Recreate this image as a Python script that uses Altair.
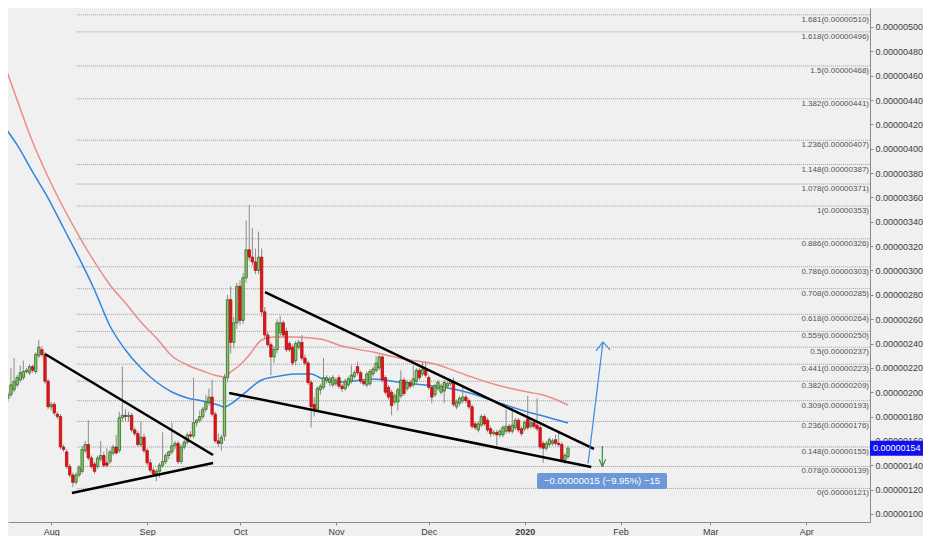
import altair as alt
import pandas as pd

# ---------------- data (prices in satoshi, 1e-8) ----------------
opens = [209,209,195,198,202,206,210,212,217,216,
         221,217,230,235,231,209,188,190,182,180,
         155,151,139,132,126,132,135,152,157,146,
         141,139,145,148,142,143,150,155,152,179,
         181,180,181,169,166,157,163,152,142,136,
         133,135,140,143,148,151,156,158,143,155,
         159,165,164,175,177,180,186,192,196,182,
         160,158,164,212,276,241,257,287,259,294,
         317,311,307,300,311,266,247,239,229,235,
         249,257,250,240,237,226,237,241,228,224,
         208,190,186,202,204,210,208,206,207,212,
         205,203,206,209,213,221,216,209,206,207,
         215,218,220,229,212,204,200,192,192,197,
         210,203,208,206,209,218,215,218,212,204,
         198,203,200,201,205,207,209,188,191,193,
         196,193,188,174,169,173,180,177,170,166,
         167,165,165,168,172,168,171,177,170,170,
         178,172,175,173,171,158,154,157,158,161,
         158,157,144,147]
highs = [214,219,200,220,228,214,222,226,220,223,
         223,233,243,238,233,211,192,192,184,182,
         157,153,141,134,134,140,156,160,177,148,
         143,148,160,151,154,153,157,165,184,221,
         186,184,183,171,168,176,166,154,145,138,
         137,142,167,150,152,175,160,160,157,161,
         167,168,212,178,185,188,198,203,210,184,
         166,165,215,280,287,262,290,292,298,341,
         354,335,318,332,318,270,250,241,238,260,
         263,259,253,242,239,242,243,247,231,226,
         210,196,205,207,228,214,213,214,212,214,
         207,211,213,222,218,225,218,211,217,219,
         221,230,231,231,214,206,202,199,204,218,
         212,210,210,222,220,220,225,225,214,206,
         207,210,207,210,209,211,212,194,197,204,
         198,195,190,176,176,182,182,179,172,169,
         169,170,173,186,174,188,179,179,172,177,
         197,177,177,195,173,160,160,163,162,165,
         167,159,150,156]
lows = [206,193,192,196,200,204,208,210,215,214,
        216,215,228,229,207,186,185,181,178,153,
        151,137,130,122,124,130,133,150,144,137,
        133,137,143,138,138,141,148,149,150,176,
        176,176,167,164,155,155,150,140,134,131,
        127,130,138,141,145,149,153,141,141,153,
        157,162,162,172,175,178,184,189,180,158,
        155,152,160,208,232,236,252,255,256,290,
        308,304,297,297,262,244,237,214,224,232,
        246,245,233,233,222,222,235,226,222,206,
        171,180,184,198,202,207,205,204,205,203,
        200,201,204,207,211,214,207,205,204,205,
        213,216,218,208,198,194,181,190,185,195,
        197,201,203,204,207,210,213,212,202,191,
        196,201,198,191,203,205,188,186,189,191,
        191,186,170,169,167,171,172,167,163,164,
        156,163,163,166,166,166,169,167,164,168,
        169,170,170,168,153,142,152,155,156,156,
        155,142,141,145]
closes = [210,196,198,206,209,212,216,217,218,221,
          218,231,237,231,209,188,190,183,180,155,
          153,139,132,126,132,138,153,157,146,139,
          135,146,148,140,140,151,155,150,179,181,
          180,181,169,166,157,163,152,142,136,133,
          135,140,143,148,151,156,158,143,155,159,
          165,164,175,177,180,186,192,196,182,160,
          158,163,212,276,241,257,287,259,294,317,
          311,307,300,311,266,247,239,229,235,257,
          257,247,235,235,224,240,241,228,224,208,
          188,186,203,205,212,212,211,212,210,205,
          203,209,211,214,216,216,209,207,215,217,
          219,224,229,210,200,196,189,197,202,210,
          199,208,205,211,218,212,219,214,204,196,
          205,208,205,208,207,209,190,192,195,196,
          193,188,172,171,174,180,174,169,166,167,
          165,168,171,172,168,173,177,169,166,175,
          171,175,172,170,155,154,158,161,160,158,
          157,144,148,154]

# moving averages (day index from 2019-07-16)
ma_days = [0, 5, 10, 15, 20, 25, 30, 35, 40, 45, 50, 55, 60, 65, 70, 72, 74,
           77, 80, 84, 88, 95, 100, 103, 110, 120, 130, 140, 150, 160, 170, 175, 183]
red_ma = [475.4, 440.0, 405.5, 376.8, 351.3, 328.3, 307.0, 288.1, 273.3, 257.7,
          244.5, 229.8, 222.4, 217.4, 213.3, 212.5, 216.6, 222.4, 230.6, 242.9,
          245.4, 245.4, 244.5, 243.7, 237.9, 233.0, 227.3, 223.2, 214.2, 205.9,
          200.1, 197.7, 189.5]
blue_ma = [421.1, 403.1, 380.9, 359.5, 334.9, 310.3, 284.0, 254.4, 234.7, 219.9,
           208.4, 200.2, 195.3, 192.8, 189.5, 187.9, 190.3, 196.1, 202.6, 210.0,
           212.5, 215.0, 215.0, 211.7, 208.4, 210.9, 207.6, 205.1, 200.2, 192.0,
           183.8, 180.5, 174.7]

# Fibonacci levels
fib_levels = ["0", "0.078", "0.148", "0.236", "0.309", "0.382", "0.441", "0.5",
              "0.559", "0.618", "0.708", "0.786", "0.886", "1", "1.078", "1.148",
              "1.236", "1.382", "1.5", "1.618", "1.681"]
fib_prices = [121, 139, 155, 176, 193, 209, 223, 237, 250, 264, 285, 303, 326,
              353, 371, 387, 407, 441, 468, 496, 510]
fib_start_day = 24.3

# trend lines (day index, price)
trend_d0 = [14.0, 22.7, 85.1, 73.5]
trend_v0 = [231.4, 117.2, 282.3, 199.4]
trend_d1 = [68.3, 68.3, 191.4, 190.5]
trend_v1 = [148.4, 141.9, 153.4, 138.6]

# projection arrow (blue) and measure arrow (green)
blue_d0 = [189.5, 192.1, 196.6]
blue_v0 = [141.6, 233.9, 234.7]
blue_d1 = [194.3, 194.3, 194.3]
blue_v1 = [241.3, 241.3, 241.3]
green_d0 = [194.1, 193.1, 195.2]
green_v0 = [155.8, 144.9, 144.9]
green_d1 = [194.1, 194.1, 194.1]
green_v1 = [138.8, 138.8, 138.8]

measure_text = "\u22120.00000015 (\u22129.95%) \u221215"
last_price = 154

# ---------------- build tables ----------------
BASE = pd.Timestamp("2019-07-16")


def day(d):
    return BASE + pd.Timedelta(days=d)


n = len(closes)
assert len(opens) == n and len(highs) == n and len(lows) == n
candles = pd.DataFrame({
    "date": [day(i) for i in range(n)],
    "open": opens, "high": highs, "low": lows, "close": closes,
})
ma = pd.DataFrame({
    "date": [day(d) for d in ma_days] * 2,
    "v": red_ma + blue_ma,
    "ma": ["red"] * len(ma_days) + ["blue"] * len(ma_days),
})
fib = pd.DataFrame({
    "start": [day(fib_start_day)] * len(fib_prices),
    "price": fib_prices,
    "label": [f"{l}(0.00000{p})" for l, p in zip(fib_levels, fib_prices)],
})
trend = pd.DataFrame({
    "x0": [day(d) for d in trend_d0], "x1": [day(d) for d in trend_d1],
    "y0": trend_v0, "y1": trend_v1,
})
barrow = pd.DataFrame({
    "x0": [day(d) for d in blue_d0], "x1": [day(d) for d in blue_d1],
    "y0": blue_v0, "y1": blue_v1,
})
garrow = pd.DataFrame({
    "x0": [day(d) for d in green_d0], "x1": [day(d) for d in green_d1],
    "y0": green_v0, "y1": green_v1,
})
measure = pd.DataFrame({
    "x0": [day(173.0)], "x1": [day(215.0)], "xc": [day(194.0)],
    "y0": [120.5], "y1": [133.7], "yc": [127.1], "t": [measure_text],
})
badge = pd.DataFrame({"y0": [last_price - 6.1], "y1": [last_price + 6.1],
                      "yc": [last_price], "t": [f"0.00000{last_price}"]})

# ---------------- scales / axes ----------------
W, H = 862, 514
FONT = "Liberation Sans"
x_scale = alt.Scale(domain=[alt.DateTime(year=2019, month=7, date=18, hours=1),
                            alt.DateTime(year=2020, month=4, date=21, hours=14, minutes=24)],
                    nice=False, padding=0)
y_scale = alt.Scale(domain=[93.4, 515.6], nice=False, zero=False, padding=0)

month_ticks = [alt.DateTime(year=2019, month=m, date=1) for m in range(8, 13)] + \
              [alt.DateTime(year=2020, month=m, date=1) for m in range(1, 5)]
x_axis = alt.Axis(values=month_ticks, grid=False, title=None,
                  labelExpr="month(datum.value) == 0 ? timeFormat(datum.value, '%Y') : timeFormat(datum.value, '%b')",
                  labelFontWeight={"condition": {"test": "month(datum.value) == 0", "value": "bold"},
                                   "value": "normal"},
                  domainColor="#8a8a8a", tickColor="#8a8a8a", tickSize=3,
                  labelPadding=2, labelFontSize=9, labelColor="#3c3c3c", labelFont=FONT)
y_axis = alt.Axis(orient="right", values=list(range(100, 521, 20)), grid=False, title=None,
                  labelExpr="'0.00000' + datum.value",
                  domainColor="#8a8a8a", tickColor="#8a8a8a", tickSize=3,
                  labelPadding=2, labelFontSize=9, labelColor="#3c3c3c", labelFont=FONT)


def X(field, **kw):
    return alt.X(field, type="temporal", scale=x_scale, axis=x_axis, **kw)


def Y(field, **kw):
    return alt.Y(field, type="quantitative", scale=y_scale, axis=y_axis, **kw)


# ---------------- layers ----------------
fib_rules = alt.Chart(fib).mark_rule(color="#9c9c9c", strokeDash=[1, 1], strokeWidth=1).encode(
    x=X("start"), x2=alt.value(W), y=Y("price"))
fib_text = alt.Chart(fib).mark_text(align="right", baseline="middle", dy=5, fontSize=8,
                                    font=FONT, color="#505050").encode(
    x=alt.value(W - 1), y=Y("price"), text="label:N")

ma_lines = alt.Chart(ma).mark_line(interpolate="monotone", strokeWidth=1.5, clip=True).encode(
    x=X("date"), y=Y("v"),
    color=alt.Color("ma:N", scale=alt.Scale(domain=["red", "blue"], range=["#ef8a8a", "#2f86dc"]),
                    legend=None))

is_up = alt.datum.close >= alt.datum.open
wicks = alt.Chart(candles).mark_rule(color="#8c8c8c", strokeWidth=1, clip=True).encode(
    x=X("date"), y=Y("low"), y2="high")
bodies = alt.Chart(candles).mark_bar(width=2.4, strokeWidth=0.8, clip=True).encode(
    x=X("date"), y=Y("open"), y2="close",
    fill=alt.condition(is_up, alt.value("#8fc46c"), alt.value("#e3151b")),
    stroke=alt.condition(is_up, alt.value("#2f6b27"), alt.value("#b80c10")))

trend_lines = alt.Chart(trend).mark_rule(color="#000000", strokeWidth=2.5, clip=True).encode(
    x=X("x0"), x2="x1", y=Y("y0"), y2="y1")
blue_arrow = alt.Chart(barrow).mark_rule(color="#3f8ae0", strokeWidth=1.2).encode(
    x=X("x0"), x2="x1", y=Y("y0"), y2="y1")
green_arrow = alt.Chart(garrow).mark_rule(color="#3d8a3d", strokeWidth=1.2).encode(
    x=X("x0"), x2="x1", y=Y("y0"), y2="y1")

m_box = alt.Chart(measure).mark_rect(color="#6a98d8", cornerRadius=2).encode(
    x=X("x0"), x2="x1", y=Y("y0"), y2="y1")
m_text = alt.Chart(measure).mark_text(color="white", fontSize=9.5, font=FONT).encode(
    x=X("xc"), y=Y("yc"), text="t:N")

b_box = alt.Chart(badge).mark_rect(color="#1010f0").encode(
    x=alt.value(W), x2=alt.value(W + 53), y=Y("y0"), y2="y1")
b_text = alt.Chart(badge).mark_text(color="white", fontSize=9, font=FONT, align="left").encode(
    x=alt.value(W + 3), y=Y("yc"), text="t:N")

chart = alt.layer(
    fib_rules, fib_text, ma_lines, wicks, bodies, trend_lines,
    blue_arrow, green_arrow, m_box, m_text, b_box, b_text,
).properties(width=W, height=H, padding=0, background="#f0f0f0").configure_view(
    stroke=None).configure_axis(labelFont=FONT)

chart.save("out.html", embed_options={"renderer": "svg", "actions": False})
